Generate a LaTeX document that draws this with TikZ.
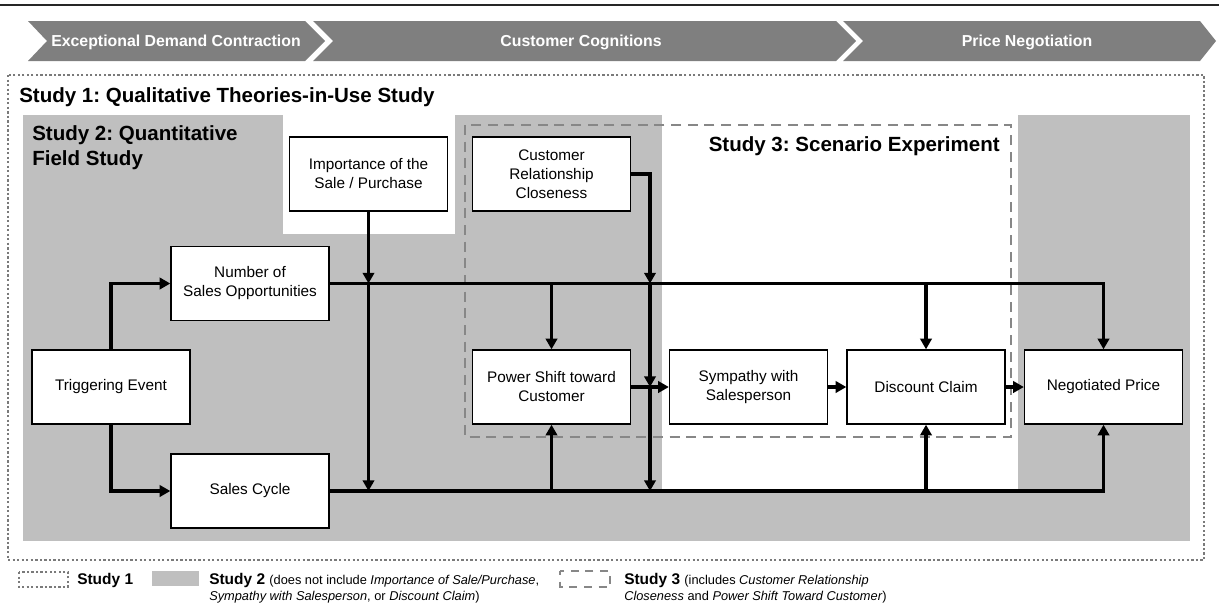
\documentclass[tikz,border=0pt]{standalone}
\usepackage{fontspec}
\setmainfont{Liberation Sans}
\usetikzlibrary{arrows.meta}
\frenchspacing
\definecolor{studytwo}{HTML}{BFBFBF}
\definecolor{chev}{HTML}{7F7F7F}
\definecolor{dashgray}{HTML}{878787}
\definecolor{dotgray}{HTML}{7A7A7A}
\tikzset{
  box/.style={draw=black, line width=1pt, fill=white, minimum width=118.5pt, minimum height=55.5pt,
    inner sep=0pt, align=center, font=\fontsize{11.5pt}{14.25pt}\selectfont},
  conn/.style={line width=2.8pt, -{Triangle[length=8pt,width=8.5pt]}},
  chevron/.style={fill=chev, draw=none},
  chevtext/.style={text=white, font=\fontsize{11.9pt}{14pt}\selectfont\bfseries, anchor=base},
  header/.style={font=\fontsize{15.4pt}{18.75pt}\selectfont\bfseries, inner sep=0pt},
  dottedline/.style={draw=dotgray, line width=1.7pt, dash pattern=on 1.7pt off 1.7pt},
  dashedline/.style={draw=dashgray, line width=2.1pt, dash pattern=on 7.5pt off 5pt},
  legbold/.style={font=\fontsize{11.6pt}{14pt}\selectfont\bfseries, inner sep=0pt, anchor=base west},
  legtext/.style={font=\fontsize{9.6pt}{12pt}\selectfont, inner sep=0pt, anchor=base west}
}
\begin{document}
\begin{tikzpicture}[x=0.75pt,y=-0.75pt]
\useasboundingbox (0,0) rectangle (1219,611);
% top rule
\draw[line width=1.8pt, draw=black!85] (0,5) -- (1219,5);
% chevrons
\fill[chevron] (28,21) -- (305,21) -- (325,41) -- (305,61) -- (28,61) -- (47,41) -- cycle;
\fill[chevron] (313,21) -- (836,21) -- (856,41) -- (836,61) -- (313,61) -- (333,41) -- cycle;
\fill[chevron] (843,21) -- (1200,21) -- (1216,41) -- (1200,61) -- (843,61) -- (863,41) -- cycle;
\node[chevtext] (ch1) at (176,46.5) {Exceptional Demand Contraction};
\node[chevtext] (ch2) at (581,46.5) {Customer Cognitions};
\node[chevtext] (ch3) at (1027,46.5) {Price Negotiation};
% Study 2 gray area
\fill[studytwo] (23,115) rectangle (1190,541);
\fill[white] (283,115) rectangle (455,234);
\fill[white] (662,115) rectangle (1018,491);
% Study 1 dotted box
\draw[dottedline] (8,75) rectangle (1204,560);
% Study 3 dashed box
\draw[dashedline] (465,125) rectangle (1011,437);
% headers
\node[header, anchor=base west] (h1) at (19,102) {Study 1: Qualitative Theories-in-Use Study};
\node[header, anchor=base west] (h2a) at (32,140) {Study 2: Quantitative};
\node[header, anchor=base west] (h2b) at (32,165) {Field Study};
\node[header, anchor=base east] (h3) at (1000,151) {Study 3: Scenario Experiment};
% nodes
\node[box] (imp) at (368.5,174) {Importance of the\\Sale / Purchase};
\node[box] (crc) at (551.5,174) {Customer\\Relationship\\Closeness};
\node[box] (nso) at (250,283.5) {Number of\\Sales Opportunities};
\node[box] (trig) at (111,387) {Triggering Event};
\node[box] (sc) at (250,491) {Sales Cycle};
\node[box] (ps) at (551.5,387) {Power Shift toward\\Customer};
\node[box] (sym) at (748.5,387) {Sympathy with\\Salesperson};
\node[box] (dc) at (926,387) {Discount Claim};
\node[box] (np) at (1103.5,387) {Negotiated Price};
% connectors
\coordinate (crcturn) at (650,174);
\draw[conn] (nso.east) -| (np.north);
\draw[conn] (sc.east) -| (np.south);
\draw[conn] (trig.north) |- (nso.west);
\draw[conn] (trig.south) |- (sc.west);
\draw[conn] (ps.north |- nso.east) -- (ps.north);
\draw[conn] (dc.north |- nso.east) -- (dc.north);
\draw[conn] (ps.south |- sc.east) -- (ps.south);
\draw[conn] (dc.south |- sc.east) -- (dc.south);
\draw[conn] (imp.south) -- (imp.south |- nso.east);
\draw[conn] (imp.south |- nso.east) -- (imp.south |- sc.east);
\draw[conn] (crc.east) -- (crcturn) -- (crcturn |- nso.east);
\draw[conn] (crcturn |- nso.east) -- (crcturn |- ps.east);
\draw[conn] (crcturn |- ps.east) -- (crcturn |- sc.east);
\draw[conn] (ps.east) -- (sym.west);
\draw[conn] (sym.east) -- (dc.west);
\draw[conn] (dc.east) -- (np.west);
% legend
\draw[dottedline] (19,572) rectangle (68,587);
\node[legbold] (l1) at (77,584) {Study 1};
\fill[studytwo] (152,571) rectangle (199,586);
\node[legbold] (l2) at (209,584) {Study 2 \fontsize{9.6pt}{12pt}\selectfont\mdseries (does not include \textit{Importance of Sale/Purchase},};
\node[legtext] (l2b) at (209,600) {\textit{Sympathy with Salesperson}, or \textit{Discount Claim})};
\draw[dashedline, dash pattern=on 6pt off 5pt, dash phase=3pt] (560,571) rectangle (610,587);
\node[legbold] (l3) at (624,584) {Study 3 \fontsize{9.6pt}{12pt}\selectfont\mdseries (includes \textit{Customer Relationship}};
\node[legtext] (l3b) at (624,600) {\textit{Closeness} and \textit{Power Shift Toward Customer})};
\end{tikzpicture}
\end{document}
